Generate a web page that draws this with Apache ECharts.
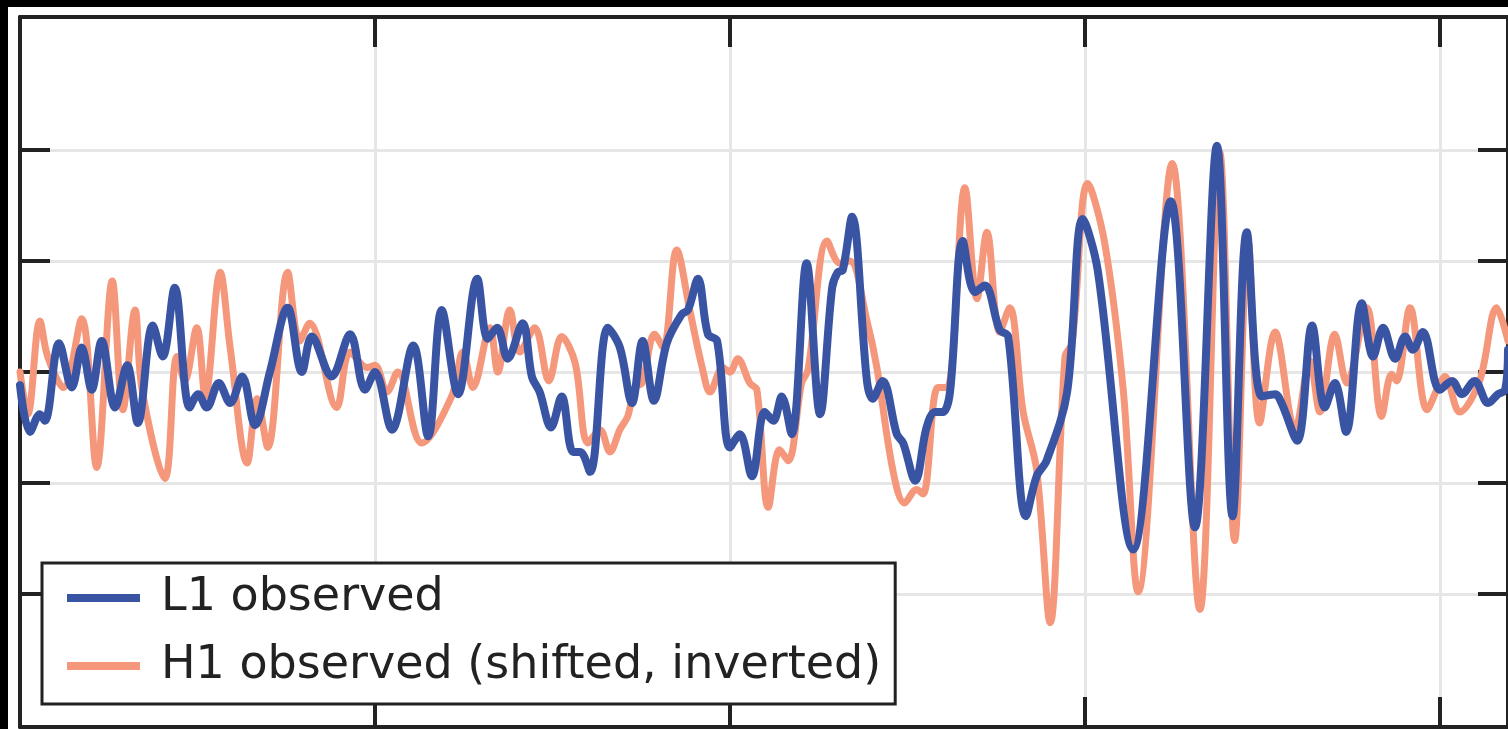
<!DOCTYPE html>
<html lang="en">
<head>
    <meta charset="UTF-8">
    <title></title>
    <script src="https://cdn.jsdelivr.net/npm/echarts@6/dist/echarts.min.js"></script>
    <style>
        body { margin: 0; background: #000; }
        #box1 { position: absolute; left: 8px; top: 7px; width: 1500px; height: 722px; background: #fff; }
    </style>
</head>
<body>
<div id="box1"></div>
<script>
    // time (s) and strain (1e-21)
    var l1Time = [0.2500, 0.2514, 0.2528, 0.2535, 0.2555, 0.2573, 0.2587, 0.2601, 0.2615, 0.2634,
        0.2651, 0.2666, 0.2687, 0.2701, 0.2718, 0.2739, 0.2751, 0.2763, 0.2780, 0.2796,
        0.2813, 0.2831, 0.2852, 0.2877, 0.2897, 0.2911, 0.2939, 0.2965, 0.2986, 0.3000,
        0.3024, 0.3054, 0.3075, 0.3094, 0.3117, 0.3144, 0.3159, 0.3172, 0.3187, 0.3208,
        0.3221, 0.3232, 0.3248, 0.3263, 0.3279, 0.3289, 0.3303, 0.3328, 0.3345, 0.3362,
        0.3377, 0.3393, 0.3411, 0.3432, 0.3441, 0.3455, 0.3469, 0.3482, 0.3500, 0.3514,
        0.3531, 0.3549, 0.3561, 0.3573, 0.3587, 0.3608, 0.3627, 0.3644, 0.3652, 0.3659,
        0.3672, 0.3693, 0.3701, 0.3715, 0.3735, 0.3744, 0.3761, 0.3777, 0.3789, 0.3800,
        0.3810, 0.3828, 0.3845, 0.3859, 0.3880, 0.3892, 0.3917, 0.3932, 0.3946, 0.3975,
        0.3997, 0.4018, 0.4068, 0.4121, 0.4155, 0.4186, 0.4208, 0.4228, 0.4249, 0.4268,
        0.4277, 0.4299, 0.4320, 0.4338, 0.4352, 0.4368, 0.4390, 0.4406, 0.4420, 0.4437,
        0.4451, 0.4462, 0.4476, 0.4500, 0.4517, 0.4531, 0.4549, 0.4568, 0.4582, 0.4592,
        0.4596];
    var l1Strain = [-0.06, -0.27, -0.19, -0.22, 0.13, -0.07, 0.11, -0.08, 0.14, -0.16,
        0.03, -0.23, 0.21, 0.07, 0.38, -0.16, -0.10, -0.16, -0.05, -0.14,
        -0.02, -0.24, 0.00, 0.29, 0.00, 0.16, -0.02, 0.17, -0.08, 0.00,
        -0.26, 0.12, -0.29, 0.28, -0.10, 0.42, 0.15, 0.20, 0.06, 0.22,
        -0.02, -0.09, -0.25, -0.11, -0.36, -0.36, -0.45, 0.20, 0.11, -0.14,
        0.14, -0.13, 0.13, 0.26, 0.28, 0.42, 0.17, 0.14, -0.34, -0.28,
        -0.47, -0.18, -0.22, -0.11, -0.28, 0.49, -0.19, 0.38, 0.45, 0.46,
        0.70, -0.04, -0.12, -0.04, -0.28, -0.32, -0.49, -0.25, -0.18, -0.18,
        -0.09, 0.59, 0.36, 0.39, 0.19, 0.16, -0.65, -0.47, -0.40, -0.09,
        0.69, 0.46, -0.80, 0.77, -0.70, 1.02, -0.65, 0.63, -0.11, -0.10,
        -0.14, -0.31, 0.21, -0.16, -0.05, -0.27, 0.31, 0.07, 0.20, 0.06,
        0.16, 0.10, 0.18, -0.08, -0.04, -0.10, -0.04, -0.14, -0.10, -0.08,
        0.10];

    var h1Time = [0.2500, 0.2511, 0.2528, 0.2539, 0.2561, 0.2587, 0.2608, 0.2630, 0.2645, 0.2662,
        0.2672, 0.2704, 0.2721, 0.2732, 0.2749, 0.2761, 0.2782, 0.2796, 0.2820, 0.2834,
        0.2849, 0.2877, 0.2894, 0.2908, 0.2946, 0.2965, 0.2989, 0.3000, 0.3017, 0.3032,
        0.3066, 0.3108, 0.3124, 0.3138, 0.3162, 0.3173, 0.3190, 0.3204, 0.3225, 0.3245,
        0.3263, 0.3282, 0.3300, 0.3317, 0.3331, 0.3345, 0.3356, 0.3366, 0.3376, 0.3394,
        0.3406, 0.3425, 0.3444, 0.3461, 0.3472, 0.3490, 0.3500, 0.3511, 0.3528, 0.3538,
        0.3554, 0.3570, 0.3582, 0.3601, 0.3610, 0.3637, 0.3655, 0.3669, 0.3693, 0.3707,
        0.3730, 0.3746, 0.3763, 0.3772, 0.3793, 0.3806, 0.3831, 0.3848, 0.3862, 0.3880,
        0.3894, 0.3913, 0.3932, 0.3951, 0.3972, 0.3982, 0.4004, 0.4028, 0.4054, 0.4075,
        0.4123, 0.4162, 0.4190, 0.4211, 0.4230, 0.4246, 0.4268, 0.4296, 0.4317, 0.4331,
        0.4352, 0.4369, 0.4397, 0.4418, 0.4432, 0.4439, 0.4458, 0.4482, 0.4500, 0.4507,
        0.4528, 0.4556, 0.4580, 0.4596];
    var h1Strain = [0.00, -0.19, 0.23, 0.07, -0.07, 0.24, -0.43, 0.41, -0.17, 0.28,
        -0.08, -0.48, 0.07, -0.04, 0.20, -0.11, 0.45, 0.11, -0.41, -0.12,
        -0.34, 0.45, 0.14, 0.22, -0.16, 0.09, 0.02, 0.03, -0.09, 0.00,
        -0.32, -0.11, 0.09, -0.07, 0.20, 0.00, 0.28, 0.09, 0.20, -0.04,
        0.16, 0.04, -0.32, -0.26, -0.36, -0.26, -0.20, -0.07, -0.05, 0.17,
        0.11, 0.55, 0.27, 0.02, -0.09, 0.02, 0.00, 0.06, -0.05, -0.08,
        -0.61, -0.35, -0.40, -0.05, 0.01, 0.59, 0.49, 0.50, 0.23, 0.02,
        -0.45, -0.59, -0.53, -0.55, -0.07, -0.07, 0.83, 0.33, 0.63, 0.18,
        0.29, -0.18, -0.44, -1.13, 0.07, 0.13, 0.85, 0.58, -0.08, -0.99,
        0.94, -1.07, 0.99, -0.76, 0.59, -0.23, 0.18, -0.26, 0.05, -0.18,
        0.17, -0.05, 0.29, -0.20, -0.01, -0.04, 0.29, -0.17, -0.05, -0.02,
        -0.18, -0.04, 0.29, 0.14];

    var xTicks = [0.25, 0.4596, 0.05];   // min, max, step
    var yGrid = [-1, 1, 0.5];

    function pairs(t, v) {
        return t.map(function (x, i) { return [x, v[i]]; });
    }

    var mychart = echarts.init(document.getElementById("box1"));

    var frame = {show: true, onZero: false, lineStyle: {color: '#222', width: 4}};
    var tick = {show: true, inside: true, length: 30, lineStyle: {color: '#222', width: 4}};
    var grid = {show: true, lineStyle: {color: '#e6e6e6', width: 3}};

    var option = {
        animation: false,
        grid: [
            {left: 12, right: 0, top: 10, bottom: 2},
            {left: 12, right: 0, top: 143, bottom: 135}
        ],
        xAxis: [
            {gridIndex: 0, type: 'value', position: 'bottom', min: xTicks[0], max: xTicks[1], interval: xTicks[2],
                axisLine: frame, axisTick: tick, axisLabel: {show: false}, splitLine: grid},
            {gridIndex: 0, type: 'value', position: 'top', min: xTicks[0], max: xTicks[1], interval: xTicks[2],
                axisLine: frame, axisTick: tick, axisLabel: {show: false}, splitLine: {show: false}},
            {gridIndex: 1, type: 'value', min: xTicks[0], max: xTicks[1], show: false}
        ],
        yAxis: [
            {gridIndex: 0, type: 'value', position: 'left', min: -1.6, max: 1.6,
                axisLine: frame, axisTick: {show: false}, axisLabel: {show: false}, splitLine: {show: false}},
            {gridIndex: 0, type: 'value', position: 'right', min: -1.6, max: 1.6,
                axisLine: frame, axisTick: {show: false}, axisLabel: {show: false}, splitLine: {show: false}},
            {gridIndex: 1, type: 'value', position: 'left', min: yGrid[0], max: yGrid[1], interval: yGrid[2],
                axisLine: {show: false}, axisTick: tick, axisLabel: {show: false}, splitLine: grid},
            {gridIndex: 1, type: 'value', position: 'right', min: yGrid[0], max: yGrid[1], interval: yGrid[2],
                axisLine: {show: false}, axisTick: tick, axisLabel: {show: false}, splitLine: {show: false}}
        ],
        legend: {
            orient: 'vertical',
            left: 34,
            top: 556,
            data: ['L1 observed', 'H1 observed (shifted, inverted)'],
            icon: 'rect',
            itemWidth: 73,
            itemHeight: 8,
            itemGap: 18,
            padding: [10, 14, 13, 25],
            backgroundColor: '#fff',
            borderColor: '#222',
            borderWidth: 3,
            borderRadius: 0,
            textStyle: {
                fontFamily: 'DejaVu Sans',
                fontSize: 46,
                lineHeight: 50,
                color: '#222',
                padding: [0, 0, 0, 16]
            }
        },
        series: [
            {
                name: 'H1 observed (shifted, inverted)',
                type: 'line',
                xAxisIndex: 0, yAxisIndex: 0,
                data: pairs(h1Time, h1Strain),
                showSymbol: false,
                smooth: 0.35,
                color: '#f4977b',
                lineStyle: {width: 7, color: '#f4977b', cap: 'round', join: 'round'}
            },
            {
                name: 'L1 observed',
                type: 'line',
                xAxisIndex: 0, yAxisIndex: 0,
                data: pairs(l1Time, l1Strain),
                showSymbol: false,
                smooth: 0.35,
                color: '#3a54a4',
                lineStyle: {width: 8, color: '#3a54a4', cap: 'round', join: 'round'}
            }
        ]
    };
    mychart.setOption(option);
</script>
</body>
</html>
